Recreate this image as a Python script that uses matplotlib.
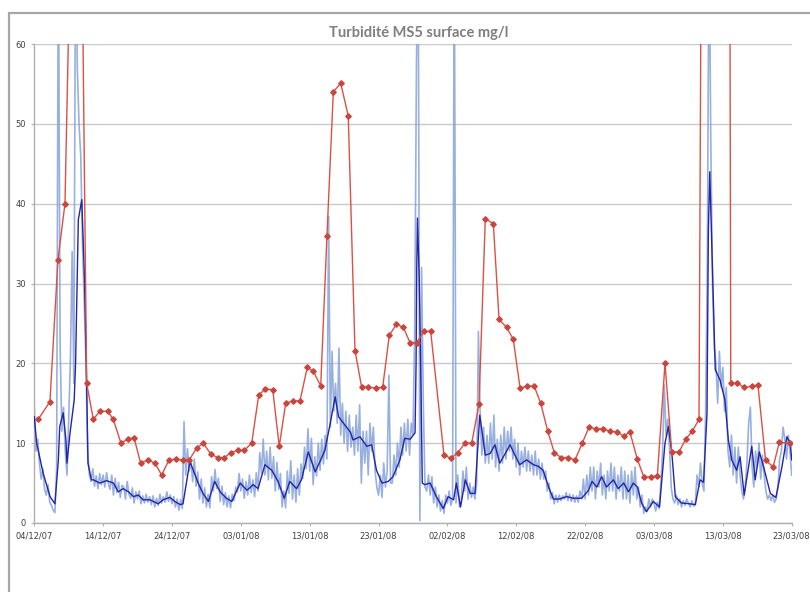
import matplotlib
matplotlib.use("Agg")
import matplotlib.pyplot as plt
import matplotlib.patches as mpatches
import numpy as np
import pandas as pd

# Start date of the series (day offsets below are counted from it)
start = pd.Timestamp("2007-12-04")

# Lab samples (red, diamonds): day offset, value mg/l
red_days = [0.58, 2.28, 3.44, 4.46, 5.47, 6.45, 7.61, 8.57, 9.54, 10.66, 11.47, 12.59,
            13.57, 14.48, 15.45, 16.51, 17.53, 18.50, 19.56, 20.58, 21.55, 22.51, 23.59,
            24.55, 25.66, 26.64, 27.60, 28.57, 29.54, 30.50, 31.58, 32.59, 33.55, 34.63,
            35.58, 36.51, 37.57, 38.59, 39.65, 40.52, 41.60, 42.51, 43.43, 44.50, 45.60,
            46.58, 47.55, 48.50, 49.60, 50.60, 51.56, 52.60, 53.60, 54.57, 55.54, 56.60,
            57.57, 59.50, 60.52, 61.50, 62.56, 63.53, 64.59, 65.50, 66.67, 67.50, 68.60,
            69.57, 70.55, 71.52, 72.58, 73.55, 74.57, 75.53, 76.50, 77.56, 78.53, 79.59,
            80.56, 81.58, 82.55, 83.60, 84.57, 85.60, 86.50, 87.58, 88.55, 89.52, 90.49,
            91.60, 92.58, 93.64, 94.60, 95.57, 96.54, 97.5, 98.5, 99.5, 100.5, 101.15,
            102.1, 103.1, 104.2, 105.1, 106.2, 107.3, 108.2, 109.7]
red_vals = [13.0, 15.2, 33.0, 40.0, 82.0, 111.0, 17.5, 13.0, 14.0, 14.0, 13.0, 10.0,
            10.5, 10.7, 7.5, 7.9, 7.5, 6.0, 7.9, 8.0, 7.9, 7.9, 9.4,
            10.0, 8.6, 8.2, 8.2, 8.8, 9.1, 9.1, 10.0, 16.0, 16.8, 16.7,
            9.6, 15.0, 15.3, 15.3, 19.5, 19.0, 17.2, 36.0, 54.0, 55.1, 51.0,
            21.6, 17.0, 17.0, 16.9, 17.0, 23.5, 24.9, 24.5, 22.6, 22.6, 24.0,
            24.0, 8.5, 8.1, 8.8, 10.0, 10.0, 14.9, 38.1, 37.5, 25.5, 24.5,
            23.0, 16.9, 17.1, 17.2, 15.0, 11.5, 8.8, 8.2, 8.2, 7.9, 10.0,
            12.0, 11.8, 11.8, 11.5, 11.4, 10.9, 11.4, 8.0, 5.7, 5.8, 5.9,
            20.0, 8.9, 8.9, 10.5, 11.5, 13.0, 193.0, 260.0, 300.0, 293.0, 17.5,
            17.5, 17.0, 17.1, 17.3, 7.9, 7.0, 10.1, 10.0]

# Smoothed probe signal (dark blue)
dark_days = [0.0, 0.35, 1.3, 2.3, 3.0, 3.5, 3.7, 4.2, 4.6, 4.75, 5.2, 5.8, 6.0, 6.4, 6.9,
             7.3, 7.6, 7.8, 8.3, 8.6, 9.5, 10.5, 11.5, 12.2, 12.9, 13.7, 14.4, 15.1, 15.8,
             16.8, 18.0, 18.7, 19.7, 20.4, 21.2, 21.6, 22.6, 23.1, 23.8, 24.5, 25.3, 26.2,
             27.0, 27.9, 28.7, 29.9, 30.9, 31.8, 32.5, 33.5, 34.5, 35.4, 36.3, 37.1, 38.1,
             38.8, 39.8, 40.8, 41.5, 42.2, 42.9, 43.7, 44.2, 44.9, 45.9, 46.3, 47.3, 48.3,
             49.0, 49.7, 50.5, 51.4, 52.1, 53.1, 53.8, 54.6, 55.3, 55.45, 55.55, 55.65,
             55.9, 56.15, 56.35, 56.7, 57.5, 58.4, 59.4, 60.1, 60.9, 61.3, 61.9, 62.6,
             63.3, 64.0, 64.7, 65.5, 66.2, 66.9, 67.6, 68.4, 69.1, 69.8, 70.5, 71.5, 72.5,
             73.2, 73.9, 74.7, 75.4, 76.3, 77.3, 78.3, 79.5, 80.5, 81.0, 81.7, 82.4, 83.1,
             84.1, 84.8, 85.6, 86.3, 87.0, 87.6, 88.2, 88.9, 89.9, 90.8, 91.6, 92.1, 92.6,
             93.1, 94.0, 95.2, 96.0, 96.7, 97.2, 97.7, 97.9, 98.1, 98.6, 98.9, 99.6, 100.3,
             100.8, 101.3, 102.0, 102.5, 103.1, 104.2, 104.7, 105.3, 105.9, 106.9, 107.7,
             108.6, 109.3, 109.8, 110.0]
dark_vals = [13.3, 10.0, 6.2, 3.3, 2.4, 7.9, 12.1, 13.8, 10.4, 7.5, 11.3, 15.4, 20.0, 38.0, 40.5,
             30.5, 17.9, 7.5, 5.4, 5.4, 5.0, 5.3, 5.0, 3.9, 4.3, 3.9, 3.3, 3.5, 2.9,
             2.9, 2.4, 2.9, 3.2, 2.7, 2.3, 2.4, 7.7, 6.6, 5.0, 3.7, 2.7, 5.2,
             3.9, 3.1, 2.7, 5.0, 4.1, 4.8, 4.3, 7.3, 6.6, 5.2, 3.1, 5.2, 4.3,
             5.4, 8.9, 6.4, 7.7, 9.1, 12.1, 15.8, 13.3, 12.5, 11.4, 10.4, 10.8, 9.6,
             9.8, 6.6, 5.0, 5.2, 5.8, 7.9, 10.6, 10.5, 11.3, 20.0, 32.0, 38.2,
             31.0, 18.0, 5.0, 4.8, 5.0, 3.3, 1.8, 3.3, 2.9, 5.0, 2.0, 5.4,
             3.7, 3.7, 13.5, 8.5, 8.7, 9.8, 7.5, 8.7, 9.8, 8.5, 7.3, 7.9, 7.3,
             7.1, 6.6, 4.5, 3.0, 3.0, 3.3, 3.1, 3.1, 4.1, 5.2, 4.5, 5.8, 4.5,
             5.4, 4.3, 5.0, 3.9, 5.0, 4.5, 2.5, 1.4, 2.7, 2.0, 10.0, 12.1, 8.7,
             3.3, 2.5, 2.4, 2.3, 5.4, 5.1, 13.7, 36.7, 44.0, 28.4, 19.2, 17.9, 15.4,
             10.4, 7.9, 6.6, 8.3, 3.5, 9.6, 5.4, 8.9, 7.1, 3.7, 3.2,
             7.1, 10.8, 10.0, 7.9]

# Raw probe signal (light blue), four readings per day (00h, 06h, 12h, 18h)
light_vals = [
    14.7, 9.0, 10.5, 7.5,   5.5, 6.8, 4.2, 3.5,   4.8, 2.6, 2.2, 1.6,   1.3, 7.0, 75.0, 22.5,
    11.5, 14.5, 9.0, 6.0,   13.0, 20.5, 34.0, 17.5,   75.0, 57.0, 50.0, 46.0,   35.0, 28.0, 20.0, 9.0,
    6.0, 5.2, 6.8, 4.6,   5.9, 4.3, 6.2, 4.8,   6.0, 4.5, 6.3, 5.0,   4.2, 6.0, 3.5, 5.6,
    3.8, 5.1, 3.2, 4.7,   4.5, 3.0, 5.2, 3.6,   3.1, 4.4, 2.5, 3.9,   3.0, 4.0, 2.4, 3.4,
    2.5, 3.6, 2.6, 3.3,   2.3, 3.4, 2.0, 3.1,   2.2, 3.6, 2.5, 3.3,   2.6, 3.9, 2.7, 3.5,
    2.4, 3.3, 2.0, 3.0,   1.6, 2.9, 1.8, 12.7,   6.0, 9.3, 6.5, 7.8,   5.2, 8.0, 4.6, 6.4,
    3.0, 5.5, 2.5, 4.4,   2.0, 3.6, 1.9, 5.8,   4.0, 6.7, 4.3, 5.6,   2.7, 4.6, 2.3, 3.8,
    2.0, 3.4, 1.9, 3.6,   2.8, 4.5, 3.9, 6.2,   4.0, 5.5, 3.1, 5.2,   3.5, 6.0, 3.8, 5.4,
    3.3, 6.3, 4.0, 8.8,   6.2, 10.5, 6.0, 9.0,   5.4, 9.5, 5.6, 8.3,   4.0, 7.6, 4.2, 6.2,
    2.0, 4.0, 1.9, 6.5,   3.7, 7.8, 3.0, 6.0,   2.6, 6.8, 3.5, 7.4,   5.6, 9.5, 6.8, 11.8,
    6.5, 10.6, 4.8, 8.3,   5.9, 10.0, 6.6, 10.5,   7.4, 11.0, 8.0, 38.4,   12.0, 21.5, 14.0, 17.5,
    12.5, 21.9, 11.0, 15.0,   10.0, 14.0, 9.0, 13.5,   9.5, 12.0, 8.5, 13.5,   9.0, 14.8, 5.0, 11.5,
    7.5, 11.5, 6.0, 12.5,   9.0, 12.0, 6.5, 4.5,   3.5, 6.0, 3.2, 7.5,   4.5, 6.5, 18.5, 5.0,
    5.0, 8.5, 6.0, 10.0,   7.0, 12.0, 8.5, 12.5,   9.0, 13.0, 8.5, 12.5,   11.0, 24.0, 57.0, 75.0,
    0.3, 32.0, 15.0, 4.5,   4.0, 6.0, 3.5, 5.8,   2.5, 4.5, 2.0, 3.5,   1.5, 2.8, 1.2, 3.5,
    2.5, 4.0, 2.2, 3.0,   75.0, 2.5, 6.0, 2.0,   2.5, 6.5, 4.0, 7.0,   3.0, 5.0, 3.2, 4.5,
    3.0, 5.0, 24.0, 14.0,   8.5, 12.0, 7.5, 11.0,   7.5, 12.5, 8.0, 13.5,   7.0, 10.5, 6.5, 11.0,
    7.5, 12.0, 8.0, 11.5,   9.0, 12.0, 8.0, 10.5,   7.0, 10.0, 6.0, 9.0,   7.0, 9.5, 6.5, 9.0,
    6.5, 8.5, 6.0, 9.0,   6.0, 8.0, 5.5, 7.5,   5.5, 6.5, 4.0, 5.0,   3.0, 3.8, 2.4, 3.5,
    2.6, 3.5, 2.8, 3.4,   3.0, 3.8, 2.8, 3.6,   2.7, 3.5, 2.6, 3.4,   2.6, 4.0, 3.0, 5.5,
    3.0, 6.0, 3.5, 7.0,   4.0, 7.0, 3.0, 6.5,   4.5, 7.5, 3.5, 6.0,   3.0, 6.5, 4.0, 7.5,
    4.0, 7.0, 3.0, 6.0,   4.0, 7.0, 3.0, 6.5,   3.0, 6.0, 2.5, 6.5,   3.5, 7.0, 3.0, 4.5,
    2.0, 3.5, 1.2, 2.0,   1.5, 3.0, 2.0, 3.0,   2.5, 1.5, 2.6, 1.8,   5.0, 9.0, 17.3, 11.0,
    13.0, 9.5, 4.5, 3.0,   2.5, 3.5, 2.3, 3.0,   2.0, 2.8, 2.2, 3.0,   2.5, 2.0, 2.8, 2.1,
    2.3, 6.0, 4.5, 7.5,   5.0, 4.0, 14.0, 33.0,   75.0, 48.0, 30.0, 22.0,   20.0, 15.0, 21.5, 17.0,
    19.5, 14.0, 17.0, 9.0,   7.0, 11.0, 6.0, 9.5,   5.0, 9.5, 6.0, 4.0,   3.0, 4.5, 7.5, 12.5,
    14.5, 7.0, 4.5, 9.0,   7.0, 10.0, 5.5, 8.5,   6.0, 4.0, 3.0, 3.5,   2.8, 3.5, 2.6, 3.0,
    4.5, 8.0, 9.0, 12.0,   10.5, 8.0, 11.0, 9.0,   6.0,
]

tick_labels = ["04/12/07", "14/12/07", "24/12/07", "03/01/08", "13/01/08", "23/01/08",
               "02/02/08", "12/02/08", "22/02/08", "03/03/08", "13/03/08", "23/03/08"]
title = "Turbidité MS5 surface mg/l"


def to_dates(days):
    return start + pd.to_timedelta(np.asarray(days, dtype=float), unit="D")


light_days = np.arange(len(light_vals)) * 0.25

fig = plt.figure(figsize=(8.1, 5.92), dpi=100)
ax = fig.add_axes([0.0423, 0.1166, 0.9351, 0.809])

# outer chart frame (cut by the screenshot on the right and bottom)
frame = mpatches.Rectangle((0.0115, -0.1), 1.2, 1.0776, transform=fig.transFigure,
                           fill=False, edgecolor="#a6a6a6", linewidth=1.6)
fig.patches.append(frame)

ax.plot(to_dates(light_days), light_vals, color="#86a3da", lw=1.2, alpha=0.85, zorder=2)
ax.plot(to_dates(dark_days), dark_vals, color="#2424a8", lw=1.0, zorder=3)
ax.plot(to_dates(red_days), red_vals, color="#dc5044", lw=1.0, marker="D",
        markersize=2.8, markerfacecolor="#c8463e", markeredgecolor="#c8463e", zorder=4)

ticks = pd.date_range("2007-12-04", "2008-03-23", freq="10D")
ax.set_xticks(ticks)
ax.set_xticklabels(tick_labels)
ax.set_xlim(ticks[0], ticks[-1])
ax.set_ylim(0, 60)
ax.set_yticks(range(0, 61, 10))

ax.grid(axis="y", color="#c9c9c9", lw=1.0)
ax.set_axisbelow(True)
for side in ["top", "right"]:
    ax.spines[side].set_visible(False)
for side in ["left", "bottom"]:
    ax.spines[side].set_color("#b0b0b0")
    ax.spines[side].set_linewidth(1.0)
ax.tick_params(axis="both", labelsize=6, colors="#b0b0b0", labelcolor="#404040",
               length=2.5, width=0.8)

fig.text(0.517, 0.944, title, ha="center", va="center", fontsize=10.5,
         fontweight="bold", color="#7f7f7f", family=["Lato", "DejaVu Sans"])

fig.savefig("out.png", dpi=100)
